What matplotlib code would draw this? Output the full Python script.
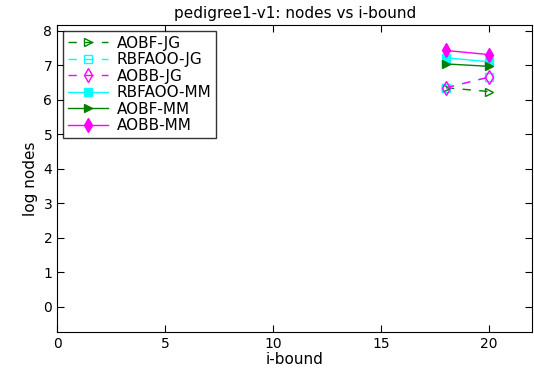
import matplotlib
matplotlib.use("Agg")
import matplotlib.pyplot as plt

# log node counts per i-bound for each algorithm
ibounds = [18, 20]
aobf_jg = [6.35, 6.24]
rbfaoo_jg = [6.35, 6.66]
aobb_jg = [6.35, 6.66]
rbfaoo_mm = [7.22, 7.10]
aobf_mm = [7.04, 6.97]
aobb_mm = [7.43, 7.31]

green = '#008000'
cyan = '#00ffff'
magenta = '#ff00ff'

fig = plt.figure(figsize=(5.34, 3.72), dpi=100)
ax = fig.add_axes([0.107, 0.108, 0.89, 0.825])

dash = (0, (6, 6))
ax.plot(ibounds, aobf_jg, color=green, ls=dash, lw=1, marker='>', mfc='none', mec=green, ms=6, label='AOBF-JG')
ax.plot(ibounds, rbfaoo_jg, color=cyan, ls=dash, lw=1, marker='s', mfc='none', mec=cyan, ms=6, label='RBFAOO-JG')
ax.plot(ibounds, aobb_jg, color=magenta, ls=dash, lw=1, marker='d', mfc='none', mec=magenta, ms=7, label='AOBB-JG')
ax.plot(ibounds, rbfaoo_mm, color=cyan, lw=1, marker='s', mfc=cyan, mec=cyan, ms=6, label='RBFAOO-MM')
ax.plot(ibounds, aobf_mm, color=green, lw=1, marker='>', mfc=green, mec=green, ms=6, label='AOBF-MM')
ax.plot(ibounds, aobb_mm, color=magenta, lw=1, marker='d', mfc=magenta, mec=magenta, ms=7, label='AOBB-MM')

ax.set_xlim(0, 22)
ax.set_ylim(-0.72, 8.17)
ax.set_xticks([0, 5, 10, 15, 20])
ax.set_yticks(range(0, 9))
ax.tick_params(direction='in', top=True, right=True, length=5, labelsize=10)
ax.set_xlabel('i-bound', fontsize=11, labelpad=1)
ax.set_ylabel('log nodes', fontsize=11)
ax.set_title('pedigree1-v1: nodes vs i-bound', fontsize=11, pad=5)

leg = ax.legend(loc='upper left', fontsize=11, fancybox=False, edgecolor='black',
                borderaxespad=0.4, handlelength=2.6, handletextpad=0.6,
                labelspacing=0.1, borderpad=0.3)
leg.get_frame().set_linewidth(1.0)

fig.savefig('out.png', dpi=100)
